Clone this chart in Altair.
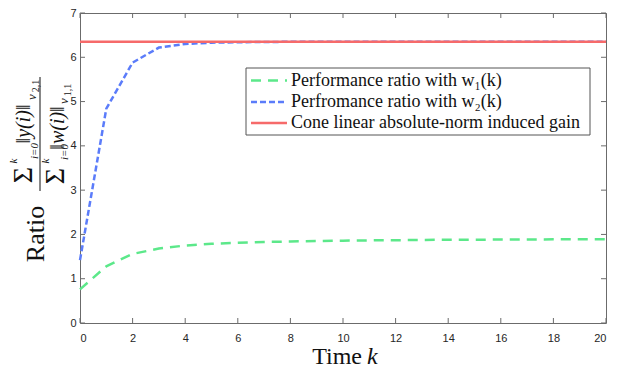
import altair as alt
import pandas as pd

# ---- data ----
k = list(range(21))
ratio_w1 = [0.76, 1.28, 1.56, 1.68, 1.75, 1.79, 1.81, 1.83, 1.84, 1.85, 1.86,
            1.865, 1.87, 1.875, 1.88, 1.88, 1.885, 1.885, 1.89, 1.89, 1.89]
ratio_w2 = [1.42, 4.84, 5.88, 6.22, 6.30, 6.33, 6.34, 6.345, 6.35, 6.35, 6.35,
            6.35, 6.35, 6.35, 6.35, 6.35, 6.35, 6.35, 6.35, 6.35, 6.35]
gain_k = [0, 20]
gain = [6.35, 6.35]

x_ticks = [0, 2, 4, 6, 8, 10, 12, 14, 16, 18, 20]
y_ticks = [0, 1, 2, 3, 4, 5, 6, 7]

S1 = "Performance ratio with w\u2081(k)"
S2 = "Perfromance ratio with w\u2082(k)"
S3 = "Cone linear absolute-norm induced gain"
series = [S1, S2, S3]
colors = ["#5ce88a", "#5b7cfa", "#f66a6a"]
dashes = [[10, 7], [6, 3], [1, 0]]

df = pd.concat([
    pd.DataFrame({"k": k, "ratio": ratio_w1, "series": S1}),
    pd.DataFrame({"k": k, "ratio": ratio_w2, "series": S2}),
    pd.DataFrame({"k": gain_k, "ratio": gain, "series": S3}),
], ignore_index=True)

W, H = 526, 310
AX = "#6b6b6b"
SERIF = "Liberation Serif"
INK = "#111111"

x_scale = alt.Scale(domain=[0, 20], nice=False, zero=False)
y_scale = alt.Scale(domain=[0, 7], nice=False)
x_axis = alt.Axis(values=x_ticks, format="d", ticks=False, domain=False, grid=False,
                  title=None, labelPadding=9)
y_axis = alt.Axis(values=y_ticks, format="d", ticks=False, domain=False, grid=False,
                  title=None, labelPadding=4)

x_enc = alt.X("k:Q", scale=x_scale, axis=x_axis)
y_enc = alt.Y("ratio:Q", scale=y_scale, axis=y_axis)
color_enc = alt.Color("series:N", scale=alt.Scale(domain=series, range=colors), legend=None)
dash_enc = alt.StrokeDash("series:N", scale=alt.Scale(domain=series, range=dashes), legend=None)

base = alt.Chart(df)
lines = [
    base.transform_filter(alt.datum.series == s)
    .mark_line(strokeWidth=2.5)
    .encode(x=x_enc, y=y_enc, color=color_enc, strokeDash=dash_enc)
    for s in series
]

xt = alt.Chart(pd.DataFrame({"k": x_ticks}))
yt = alt.Chart(pd.DataFrame({"ratio": y_ticks}))
tick_bottom = xt.mark_rule(color=AX, strokeWidth=1).encode(x=x_enc, y=alt.value(H), y2=alt.value(H - 5))
tick_top = xt.mark_rule(color=AX, strokeWidth=1).encode(x=x_enc, y=alt.value(0), y2=alt.value(5))
tick_left = yt.mark_rule(color=AX, strokeWidth=1).encode(y=y_enc, x=alt.value(0), x2=alt.value(5))
tick_right = yt.mark_rule(color=AX, strokeWidth=1).encode(y=y_enc, x=alt.value(W), x2=alt.value(W - 5))

one = alt.Data(values=[{"a": 1}])


def label(text, x, y, size, angle=0, style="normal", align="center", baseline="middle"):
    return alt.Chart(one).mark_text(
        font=SERIF, fontSize=size, fontStyle=style, angle=angle, align=align,
        baseline=baseline, color=INK
    ).encode(x=alt.value(x), y=alt.value(y), text=alt.value(text))


# x title
title_time = label("Time", 282, 351, 24, align="right", baseline="alphabetic")
title_k = label("k", 287, 351, 24, style="italic", align="left", baseline="alphabetic")

# y title: Ratio  (sum ||y(i)||_{v2,1}) / (sum ||w(i)||_{v1,1})
R = 270
ytitle = [
    label("Ratio", -44, 221, 26, angle=R),
    # numerator
    label("\u03a3", -56, 162, 28, angle=R),
    label("k", -66, 148, 11, angle=R, style="italic"),
    label("i=0", -45, 138, 11, angle=R, style="italic"),
    label("\u2016y(i)\u2016", -56, 111, 20, angle=R, style="italic"),
    label("v", -48, 84, 13, angle=R, style="italic"),
    label("2,1", -44, 73, 10, angle=R),
    # denominator
    label("\u03a3", -24, 163, 28, angle=R),
    label("k", -34, 148, 11, angle=R, style="italic"),
    label("i=0", -15, 139, 11, angle=R, style="italic"),
    label("\u2016w(i)\u2016", -22, 115, 20, angle=R, style="italic"),
    label("v", -16, 88, 13, angle=R, style="italic"),
    label("1,1", -12, 77, 10, angle=R),
]
frac_bar = alt.Chart(one).mark_rule(color=INK, strokeWidth=1).encode(
    x=alt.value(-40), y=alt.value(64), y2=alt.value(178))

# legend (drawn inside the plot, as in the reference)
legend_box = alt.Chart(one).mark_rect(fill="white", stroke="#555555", strokeWidth=1).encode(
    x=alt.value(166), x2=alt.value(510), y=alt.value(55), y2=alt.value(122))
rows_y = [67.5, 89, 110]
legend_items = []
for s, c, d, ry in zip(series, colors, dashes, rows_y):
    legend_items.append(
        alt.Chart(one).mark_rule(color=c, strokeDash=d, strokeWidth=2.5).encode(
            x=alt.value(171), x2=alt.value(207), y=alt.value(ry)))
    legend_items.append(label(s, 211, ry, 18, align="left"))

chart = alt.layer(
    *lines, tick_bottom, tick_top, tick_left, tick_right,
    legend_box, *legend_items,
    title_time, title_k, *ytitle, frac_bar
).properties(
    width=W, height=H,
    autosize=alt.AutoSizeParams(type="none"),
    padding={"left": 72, "top": 5, "right": 6, "bottom": 48},
).configure_view(
    stroke=AX, strokeWidth=1
).configure_axis(
    labelFont="Liberation Sans", labelFontSize=11, labelColor="#262626"
)

chart.save("out.html", embed_options={"renderer": "svg", "actions": False})
